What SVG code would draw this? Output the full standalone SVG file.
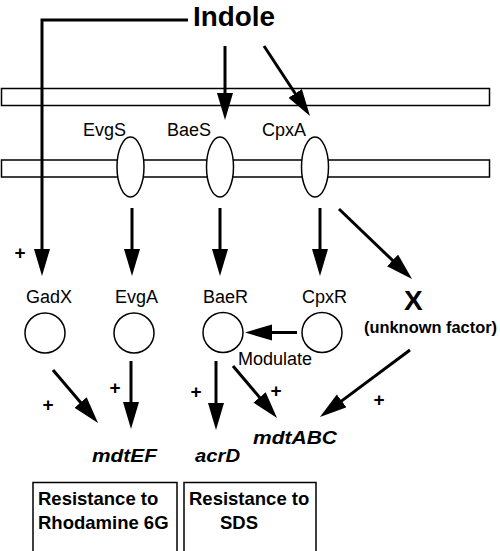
<svg xmlns="http://www.w3.org/2000/svg" width="500" height="551" viewBox="0 0 500 551">
<defs>
<style>
.lbl{font-family:"Liberation Sans",Arial,sans-serif;font-size:18px;fill:#000}
.b{font-family:"Liberation Sans",Arial,sans-serif;font-weight:bold;fill:#000}
.gene{font-family:"Liberation Sans",Arial,sans-serif;font-weight:bold;font-style:italic;font-size:19px;fill:#000}
.plus{font-family:"Liberation Sans",Arial,sans-serif;font-weight:bold;font-size:19px;fill:#000;text-anchor:middle}
.mem{fill:#fff;stroke:#000;stroke-width:1.5}
.node{fill:#fff;stroke:#000;stroke-width:1.5}
.arr{fill:none;stroke:#000;stroke-width:3;marker-end:url(#ah)}
.box{fill:#fff;stroke:#000;stroke-width:1.5}
</style>
<marker id="ah" markerUnits="userSpaceOnUse" markerWidth="28" markerHeight="17" refX="7" refY="8" orient="auto" viewBox="0 0 28 17">
<path d="M0,0 L27,8 L0,16 z" fill="#000"/>
</marker>
</defs>
<rect width="500" height="551" fill="#fff"/>
<g id="membrane">
<rect class="mem" x="1.5" y="88.5" width="488" height="17"/>
<rect class="mem" x="1.5" y="160" width="488" height="17"/>
</g>
<g id="connectors">
<polyline class="arr" points="188,20 42,20 42,256"/>
<line class="arr" x1="225" y1="46" x2="225" y2="100"/>
<line class="arr" x1="264" y1="46" x2="299" y2="99.3"/>
<line class="arr" x1="132" y1="208" x2="132" y2="256"/>
<line class="arr" x1="220" y1="208" x2="220" y2="256"/>
<line class="arr" x1="320" y1="208" x2="320" y2="256"/>
<line class="arr" x1="339" y1="209" x2="397.6" y2="265.2"/>
<line class="arr" x1="297" y1="332.5" x2="265" y2="332.5"/>
<line class="arr" x1="53" y1="370" x2="85.1" y2="407.8"/>
<line class="arr" x1="131" y1="361" x2="131" y2="409"/>
<line class="arr" x1="216" y1="361" x2="216" y2="410"/>
<line class="arr" x1="233" y1="366" x2="264.1" y2="402.7"/>
<line class="arr" x1="410" y1="350" x2="336" y2="405.1"/>
</g>
<g id="indole"><text class="b" x="193" y="26" font-size="27" textLength="82" lengthAdjust="spacingAndGlyphs">Indole</text></g>
<g id="EvgS"><ellipse class="node" cx="130.5" cy="167" rx="13.5" ry="30"/><text class="lbl" x="83" y="136">EvgS</text></g>
<g id="BaeS"><ellipse class="node" cx="220" cy="167" rx="13.5" ry="30"/><text class="lbl" x="167" y="136">BaeS</text></g>
<g id="CpxA"><ellipse class="node" cx="315" cy="167" rx="13.5" ry="30"/><text class="lbl" x="262" y="136">CpxA</text></g>
<g id="GadX"><circle class="node" cx="45" cy="333" r="20"/><text class="lbl" x="26" y="303">GadX</text></g>
<g id="EvgA"><circle class="node" cx="134" cy="333" r="20"/><text class="lbl" x="115" y="303">EvgA</text></g>
<g id="BaeR"><circle class="node" cx="223" cy="332.5" r="20"/><text class="lbl" x="203" y="303">BaeR</text></g>
<g id="CpxR"><circle class="node" cx="322" cy="332.5" r="20"/><text class="lbl" x="302" y="303">CpxR</text></g>
<g id="X"><text class="b" x="404" y="310" font-size="28">X</text><text class="b" x="364" y="333" font-size="16.5" textLength="133" lengthAdjust="spacingAndGlyphs">(unknown factor)</text></g>
<g id="modulate"><text class="lbl" x="238" y="365">Modulate</text></g>
<g id="plus">
<text class="plus" x="20" y="259">+</text>
<text class="plus" x="48" y="411">+</text>
<text class="plus" x="115" y="394">+</text>
<text class="plus" x="196" y="398">+</text>
<text class="plus" x="276" y="397">+</text>
<text class="plus" x="379" y="406">+</text>
</g>
<g id="mdtEF"><text class="gene" x="92" y="462" textLength="65" lengthAdjust="spacingAndGlyphs">mdtEF</text></g>
<g id="acrD"><text class="gene" x="195" y="462" textLength="45" lengthAdjust="spacingAndGlyphs">acrD</text></g>
<g id="mdtABC"><text class="gene" x="253" y="444" textLength="84" lengthAdjust="spacingAndGlyphs">mdtABC</text></g>
<g id="box1"><rect class="box" x="33" y="482.5" width="144" height="70"/><text class="b" font-size="18.5" x="38" y="505">Resistance to</text><text class="b" font-size="18.5" x="38" y="529">Rhodamine 6G</text></g>
<g id="box2"><rect class="box" x="184" y="482.5" width="132" height="70"/><text class="b" font-size="18.5" x="189" y="505">Resistance to</text><text class="b" font-size="18.5" x="220" y="529">SDS</text></g>
</svg>
